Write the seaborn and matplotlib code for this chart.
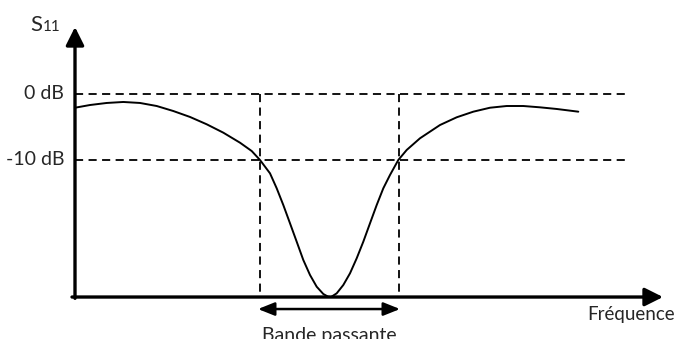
import matplotlib
matplotlib.use("Agg")
import matplotlib.pyplot as plt
import seaborn as sns
import pandas as pd

# courbe S11 (fréquence en unités arbitraires, S11 en dB)
freq = [0.000, 0.150, 0.317, 0.483, 0.650, 0.817, 0.983, 1.150, 1.317, 1.483,
        1.650, 1.767, 1.850, 1.950, 2.017, 2.083, 2.150, 2.217, 2.283, 2.350,
        2.417, 2.483, 2.530, 2.560, 2.617, 2.683, 2.750, 2.817, 2.883, 2.950,
        3.017, 3.083, 3.150, 3.233, 3.317, 3.450, 3.650, 3.817, 3.983, 4.150,
        4.317, 4.483, 4.650, 4.817, 5.033]
s11_db = [-2.08, -1.67, -1.36, -1.21, -1.36, -1.82, -2.58, -3.48, -4.59, -5.86,
          -7.38, -8.64, -10.00, -12.02, -14.29, -16.82, -19.59, -22.38, -25.15, -27.42,
          -29.20, -30.30, -30.70, -30.76, -30.20, -28.94, -27.17, -24.89, -22.38, -19.59,
          -16.82, -14.29, -12.27, -10.00, -8.48, -6.71, -4.70, -3.53, -2.68, -2.08,
          -1.82, -1.82, -2.02, -2.27, -2.68]

ref_levels = [0, -10]
ref_labels = ["0 dB", "-10 dB"]
band_edges = [1.85, 3.24]

floor_db = -30.76
x_end, y_end = 5.88, 10.15
dash_end = 5.55

df = pd.DataFrame({"Fréquence": freq, "S11": s11_db})

sns.set_style("white")
plt.rcParams["font.family"] = ["Lato", "DejaVu Sans"]

fig = plt.figure(figsize=(6.78, 3.39), dpi=100)
ax = fig.add_axes([0, 0, 1, 1])

dash = dict(color="black", lw=1.3, dashes=(4.5, 3.0))

# lignes de référence horizontales
for lvl, lab in zip(ref_levels, ref_labels):
    ax.plot([0, dash_end], [lvl, lvl], **dash)
    ax.text(-0.11, lvl, lab, ha="right", va="center", fontsize=14)

# bornes de la bande passante
for e in band_edges:
    ax.plot([e, e], [ref_levels[0], floor_db], **dash)

sns.lineplot(data=df, x="Fréquence", y="S11", ax=ax, color="black", lw=1.4,
             sort=False, legend=False, solid_joinstyle="round")
ax.set_xlim(-0.75, 6.03)
ax.set_ylim(-37.12, 14.24)
ax.axis("off")

# axes avec flèches
arrow = "-|>,head_length=1.1,head_width=0.55"
ax.annotate("", xy=(x_end, floor_db), xytext=(-0.03, floor_db),
            arrowprops=dict(arrowstyle=arrow, color="black", lw=2.4, shrinkA=0, shrinkB=0))
ax.annotate("", xy=(0, y_end), xytext=(0, floor_db - 0.2),
            arrowprops=dict(arrowstyle=arrow, color="black", lw=2.4, shrinkA=0, shrinkB=0))

# flèche double de la bande passante
ax.annotate("", xy=(band_edges[0] - 0.02, -32.58), xytext=(band_edges[1] + 0.01, -32.58),
            arrowprops=dict(arrowstyle="<|-|>,head_length=1.0,head_width=0.4",
                            color="black", lw=1.8, shrinkA=0, shrinkB=0))

ax.text(sum(band_edges) / 2, -35.3, "Bande passante", ha="center", va="top", fontsize=14)
ax.text(5.12, -34.3, "Fréquence", ha="left", va="baseline", fontsize=13.5)
ax.text(-0.45, 9.5, "S", ha="left", va="baseline", fontsize=16)
ax.text(-0.32, 9.5, "11", ha="left", va="baseline", fontsize=11)

fig.savefig("out.png", dpi=100)
